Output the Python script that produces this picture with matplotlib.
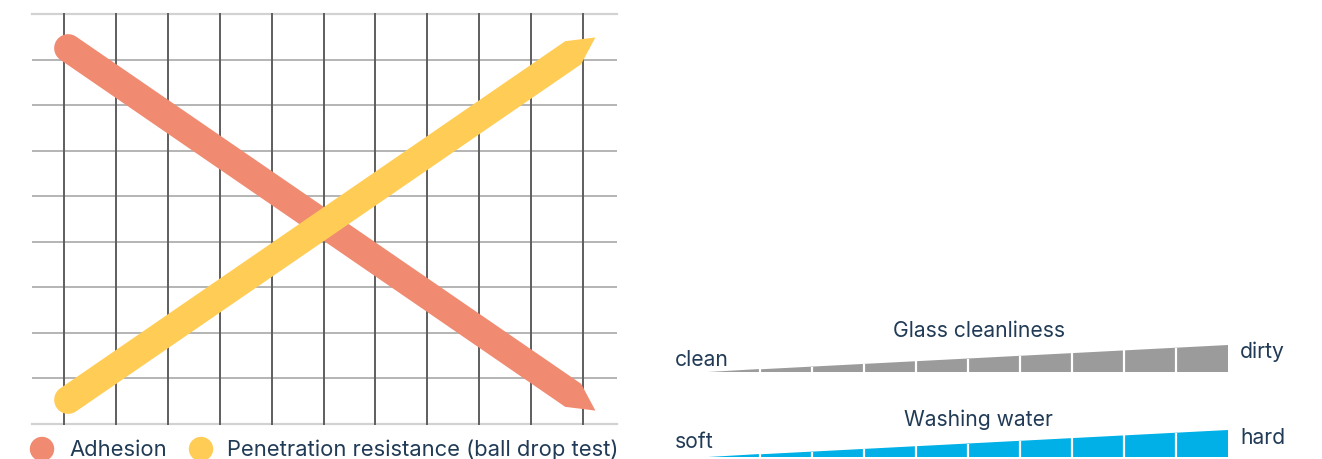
import numpy as np
import matplotlib
matplotlib.use('Agg')
import matplotlib.pyplot as plt
from matplotlib.patches import Polygon, Circle
from matplotlib.transforms import IdentityTransform

plt.rcParams['font.family'] = ['Inter', 'DejaVu Sans']

W, H = 1322, 459
TXT = '#213b56'

# Data
grid_x = np.arange(0, 11)
grid_y = np.arange(0, 10)
adhesion_x = [0.08, 9.81]
adhesion_y = [8.25, 0.63]
penetration_x = [0.08, 9.81]
penetration_y = [0.53, 8.15]
series_names = ['Adhesion', 'Penetration resistance (ball drop test)']
series_colors = ['#F08A70', '#FFCD55']

wedge_levels = [0, 1, 2, 3, 4, 5, 6, 7, 8, 9, 10]
glass_labels = ['clean', 'Glass cleanliness', 'dirty']
water_labels = ['soft', 'Washing water', 'hard']
glass_color = '#9B9B9B'
water_color = '#00B0E6'


def px_axes(fig, x0, y0, x1, y1):
    # y measured from top of the image, in pixels
    return fig.add_axes([x0 / W, (H - y1) / H, (x1 - x0) / W, (y1 - y0) / H])


fig = plt.figure(figsize=(W / 100, H / 100), dpi=100)

# ---- left chart ----
ax = px_axes(fig, 32, 14, 617, 424)
ax.set_xlim(-0.617, 10.655)
ax.set_ylim(0, 9)
ax.axis('off')

for gy in grid_y:
    if gy in (grid_y[0], grid_y[-1]):
        ax.axhline(gy, color='#d2d2d2', lw=1.6, clip_on=False, zorder=1)
    else:
        ax.axhline(gy, color='#a0a0a0', lw=1.1, zorder=1)
for gx in grid_x:
    ax.plot([gx, gx], [0, 9], color='#5e5e5e', lw=1.4, zorder=2, clip_on=False)


def band(ax, xs, ys, color, width=28, tip=27):
    p = ax.transData.transform(np.column_stack([xs, ys]))
    s, e = p[0], p[-1]
    u = (e - s) / np.hypot(*(e - s))
    n = np.array([-u[1], u[0]])
    r = width / 2
    pts = [s + n * r, e + n * r, e + u * tip, e - n * r, s - n * r]
    th = np.linspace(-np.pi / 2, np.pi / 2, 40)
    arc = [s + r * (-u * np.cos(t) + n * np.sin(t)) for t in th]
    poly = Polygon(np.array(pts + arc), closed=True, facecolor=color,
                   edgecolor='none', transform=IdentityTransform(), zorder=3)
    poly.set_clip_on(False)
    fig.add_artist(poly)


band(ax, adhesion_x, adhesion_y, series_colors[0])
band(ax, penetration_x, penetration_y, series_colors[1])

# legend (below the chart, partly cut by the edge)
leg_circle_x = [42, 201]
leg_text_x = [69, 227]
for cx, tx, name, col in zip(leg_circle_x, leg_text_x, series_names, series_colors):
    fig.add_artist(Circle((cx, H - 449), 11.5, color=col,
                          transform=IdentityTransform()))
    fig.text(tx / W, (H - 456.5) / H, name, fontsize=15.8, color=TXT,
             va='baseline', ha='left')

# ---- right wedges ----
def wedge(ax, color, labels, y_left, y_right, y_title):
    lv = wedge_levels
    n = len(lv) - 1
    top = lv[-1]
    ax.set_xlim(0, n)
    ax.set_ylim(0, top)
    ax.axis('off')
    for i in range(n):
        ax.fill([i, i + 1, i + 1, i], [0, 0, lv[i + 1], lv[i]],
                color=color, lw=0)
    ax.vlines(range(1, n), 0, lv[1:n], color='white', lw=1.6)
    fs = 15.2
    ax.text(-0.635, y_left * top, labels[0], fontsize=fs, color=TXT,
            ha='left', va='baseline')
    ax.text(n / 2 + 0.21, y_title * top, labels[1], fontsize=fs, color=TXT,
            ha='center', va='baseline')
    ax.text(10.23, y_right * top, labels[2], fontsize=fs, color=TXT,
            ha='left', va='baseline')


ax_g = px_axes(fig, 708, 345, 1228, 372)
wedge(ax_g, glass_color, glass_labels, 0.22, 0.50, 1.30)

ax_w = px_axes(fig, 708, 430, 1228, 457)
wedge(ax_w, water_color, water_labels, 0.33, 0.48, 1.15)

fig.savefig('out.png', dpi=100)
